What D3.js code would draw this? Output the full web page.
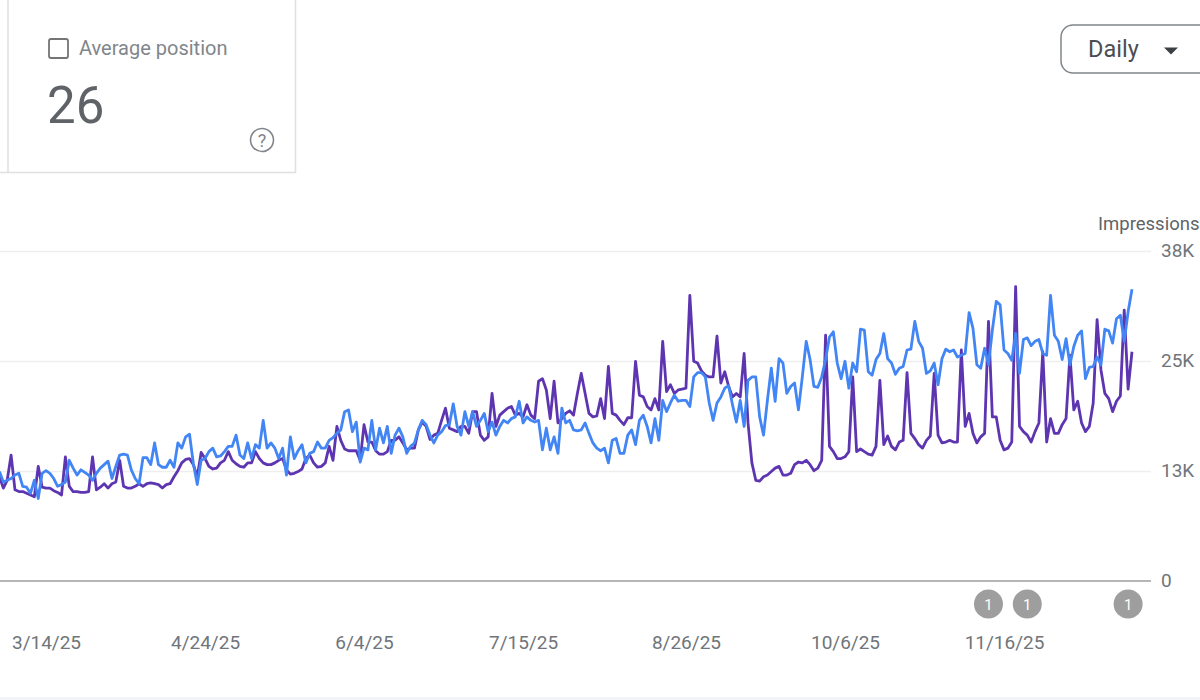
<!DOCTYPE html>
<meta charset='utf-8'>
<style>
  html, body { margin:0; padding:0; background:#fff; }
  svg { display:block; font-family:Roboto, sans-serif; }
  .grid line { stroke:#eeeeee; stroke-width:1.5px; }
  .grid path { display:none; }
  .line { fill:none; stroke-width:2.8px; stroke-linejoin:round; }
  .axisLabel text { fill:#70757a; font-size:19px; font-family:Roboto, sans-serif; }
  .axisLabel line, .axisLabel path { display:none; }
</style>
<body>
  <script src='https://d3js.org/d3.v7.min.js'></script>
  <script>
    // daily values in thousands, first day is startDate
    var startDate = '3/2/25';
    var impressions = [
      12.0,10.7,11.6,14.5,10.5,10.3,10.3,10.1,9.9,9.7,13.2,10.8,10.7,10.7,10.4,10.2,9.9,14.3,10.9,10.3,
      10.3,10.2,10.2,10.3,14.3,10.5,10.8,11.2,10.7,11.2,11.4,13.9,10.9,10.7,10.7,10.9,11.2,10.9,11.2,11.3,
      11.2,11.1,10.7,11.1,11.2,12.0,12.7,13.6,14.0,14.1,13.4,12.0,14.8,14.1,13.2,12.9,13.0,13.6,13.9,14.9,
      13.9,13.5,13.2,13.1,13.6,13.6,14.9,14.1,13.6,13.4,13.4,13.6,13.9,14.1,12.8,12.3,12.4,12.6,12.9,14.1,
      14.5,13.6,13.1,13.2,13.6,15.5,13.9,17.8,16.2,15.2,15.0,15.0,15.0,13.9,18.0,16.0,16.0,15.0,14.6,14.6,
      14.9,16.2,16.2,16.6,
      15.9,15.1,15.3,15.3,17.4,18.3,17.8,16.3,16.8,17.0,18.5,19.9,17.6,17.4,17.2,17.8,17.8,17.0,19.5,19.5,
      16.8,16.2,16.6,21.6,17.8,19.1,19.5,19.9,20.1,19.1,19.3,18.9,20.3,19.1,18.7,23.0,23.3,22.0,18.7,23.0,
      18.2,18.7,19.3,19.6,19.1,21.6,23.9,21.6,19.3,18.9,19.0,21.0,18.7,24.7,19.3,19.1,18.5,18.0,18.8,18.8,
      25.3,21.4,21.2,20.1,19.7,21.0,19.7,27.6,21.8,22.6,21.6,22.0,22.1,22.2,32.9,25.3,25.1,24.2,23.7,23.5,
      23.5,28.2,22.8,24.1,22.4,21.2,21.6,21.2,26.2,18.2,13.6,11.6,11.5,12.0,12.2,12.6,13.0,13.2,12.2,12.2,
      12.4,13.4,13.7,
      13.6,13.9,13.4,12.7,13.0,13.9,28.3,15.5,14.9,14.1,14.1,14.3,14.9,23.5,14.9,15.2,14.9,14.6,14.5,15.5,
      23.1,15.7,16.7,15.5,15.1,16.0,16.2,24.0,17.0,16.4,15.7,15.3,16.2,16.7,23.9,16.8,15.9,16.0,16.2,16.0,
      16.0,26.6,17.8,19.3,17.0,15.9,16.6,17.0,29.9,18.9,18.9,16.2,15.1,15.3,16.0,33.9,17.8,17.2,16.8,16.0,
      17.2,18.2,26.4,16.0,18.7,17.0,17.0,18.0,18.7,26.0,19.7,20.7,18.2,17.2,17.8,20.5,30.1,24.3,21.6,21.0,
      19.5,20.7,21.3,31.2,22.1,26.4
    ];
    var clicks = [
      12.6,11.4,11.6,11.8,12.2,12.4,10.9,10.8,10.1,11.6,9.5,12.4,12.7,12.4,11.8,10.9,11.1,11.4,13.9,13.0,
      12.2,12.8,12.5,12.2,11.6,12.4,13.0,13.4,13.8,11.8,13.2,14.5,14.6,14.5,12.8,11.8,11.2,14.2,14.2,13.4,
      15.9,13.4,13.1,13.1,13.9,13.1,15.9,15.3,16.6,16.9,13.5,11.1,13.9,14.1,14.9,15.3,14.3,14.4,14.9,15.5,
      15.5,16.8,14.5,14.1,15.9,14.1,15.7,15.3,18.5,15.3,15.9,15.3,14.1,15.3,12.2,16.6,14.1,15.0,15.7,13.6,
      14.7,14.9,16.0,15.3,15.3,16.2,16.5,17.0,17.4,19.5,19.7,17.2,18.3,13.7,15.3,15.1,18.5,15.1,17.6,15.9,
      17.8,14.7,16.8,17.6,
      16.6,14.7,15.5,15.9,17.4,18.5,18.0,16.8,15.9,16.8,17.2,17.9,18.0,20.4,17.8,16.8,19.5,17.8,19.5,17.8,
      18.5,19.3,17.2,18.3,16.8,17.8,18.5,18.2,18.7,18.9,20.7,18.2,18.9,18.5,18.3,18.5,15.1,17.6,15.1,16.6,
      14.7,19.9,18.2,18.5,17.4,17.3,17.4,18.2,17.0,15.9,15.3,15.0,15.3,13.6,16.2,16.4,14.7,14.7,16.8,17.4,
      15.7,18.5,19.1,17.8,15.9,18.7,16.2,20.8,19.5,20.5,21.4,20.7,20.8,20.8,20.1,23.5,24.0,24.0,23.5,20.5,
      18.5,20.5,21.2,22.2,22.5,20.3,18.3,20.8,17.8,23.1,23.5,23.5,18.9,16.8,20.8,24.5,20.7,25.6,25.1,21.6,
      22.4,22.8,19.7,
      23.5,27.6,25.5,22.4,22.3,23.5,25.5,28.1,28.7,25.1,23.3,25.3,22.2,25.1,24.1,29.0,28.9,24.1,23.7,25.5,
      26.2,28.5,25.6,25.1,23.8,24.5,24.7,26.6,26.7,29.9,27.6,26.8,23.9,24.2,25.1,22.6,25.6,26.7,26.4,26.6,
      25.8,26.0,26.2,30.9,29.1,24.9,24.5,26.8,24.9,28.9,32.2,31.8,26.6,26.2,25.4,28.5,23.9,27.8,28.0,27.1,
      27.6,27.8,26.2,26.0,32.9,28.3,27.6,25.5,27.9,24.9,27.0,28.3,28.8,23.3,24.6,24.7,25.8,24.9,29.0,28.8,
      27.4,30.2,30.6,27.6,31.0,33.6
    ];
    var dateTicks = ['3/14/25','4/24/25','6/4/25','7/15/25','8/26/25','10/6/25','11/16/25'];
    var valueTicks = [0,12.67,25.33,38];
    var valueTickLabels = ['0','13K','25K','38K'];
    var annotationDates = ['11/12/25','11/22/25','12/18/25'];
    var annotationCounts = ['1','1','1'];

    var width = 1200;
    var height = 700;
    var parseDate = d3.utcParse('%m/%d/%y');
    var formatDate = d3.utcFormat('%-m/%-d/%y');
    var first = parseDate(startDate);
    var dayOf = function(i) { return d3.utcDay.offset(first,i); };

    var svg = d3.select('body').append('svg')
      .attr('width',width)
      .attr('height',height);

    var x = d3.scaleUtc()
      .domain([parseDate('3/14/25'),parseDate('11/16/25')])
      .range([46,1004]);
    var y = d3.scaleLinear()
      .domain([0,38])
      .range([581,251]);

    // metric card, its top edge is cut off by the crop ---------------------
    svg.append('path')
      .attr('d','M8,0V172.5M0,172.5H295.5V0')
      .attr('fill','none')
      .attr('stroke','#e0e0e0')
      .attr('stroke-width',1.5);
    svg.append('rect')
      .attr('x',49).attr('y',39).attr('width',19).attr('height',19).attr('rx',2)
      .attr('fill','#fff').attr('stroke','#757575').attr('stroke-width',1.8);
    svg.append('text')
      .attr('x',79).attr('y',54.5)
      .attr('font-size',20).attr('fill','#80868b')
      .text('Average position');
    svg.append('text')
      .attr('x',47).attr('y',123)
      .attr('font-size',51).attr('fill','#5f6368')
      .text('26');
    svg.append('circle')
      .attr('cx',262).attr('cy',140).attr('r',11.5)
      .attr('fill','none').attr('stroke','#80868b').attr('stroke-width',1.6);
    svg.append('text')
      .attr('x',262).attr('y',146.5).attr('text-anchor','middle')
      .attr('font-size',18).attr('fill','#80868b')
      .text('?');

    // Daily dropdown -------------------------------------------------------
    svg.append('rect')
      .attr('x',1061).attr('y',25).attr('width',160).attr('height',48).attr('rx',12)
      .attr('fill','#fff').attr('stroke','#80868b').attr('stroke-width',1.5);
    svg.append('text')
      .attr('x',1088).attr('y',57)
      .attr('font-size',23.5).attr('fill','#4a4e52')
      .text('Daily');
    svg.append('path')
      .attr('d','M1164,47.5h14l-7,7z')
      .attr('fill','#3c4043');

    // axes -----------------------------------------------------------------
    svg.append('g')
      .attr('class','grid')
      .attr('transform','translate(1151,0)')
      .call(d3.axisLeft(y).tickValues(valueTicks.slice(1)).tickSize(1151).tickFormat(''));

    svg.append('line')
      .attr('x1',0).attr('x2',1151)
      .attr('y1',y(0)).attr('y2',y(0))
      .attr('stroke','#9e9e9e').attr('stroke-width',1.5);

    svg.append('g')
      .attr('class','axisLabel')
      .attr('transform','translate(1152,-1)')
      .call(d3.axisRight(y).tickValues(valueTicks).tickSize(0).tickPadding(9)
        .tickFormat(function(d,i) { return valueTickLabels[i]; }));

    svg.append('g')
      .attr('class','axisLabel')
      .attr('transform','translate(0,631)')
      .call(d3.axisBottom(x).tickValues(dateTicks.map(parseDate)).tickSize(0).tickPadding(4)
        .tickFormat(formatDate));

    svg.append('text')
      .attr('x',1098).attr('y',230)
      .attr('font-size',18.5).attr('fill','#5f6368')
      .text('Impressions');

    // lines ----------------------------------------------------------------
    var line = d3.line()
      .x(function(d,i) { return x(dayOf(i)); })
      .y(function(d) { return y(d); });

    svg.append('path')
      .datum(impressions)
      .attr('class','line')
      .attr('stroke','#5e35b1')
      .attr('d',line);

    svg.append('path')
      .datum(clicks)
      .attr('class','line')
      .attr('stroke','#4285f4')
      .attr('d',line);

    // annotation markers ---------------------------------------------------
    var marks = svg.selectAll('.mark')
      .data(annotationDates)
      .enter().append('g')
      .attr('class','mark')
      .attr('transform',function(d) { return 'translate(' + x(parseDate(d)) + ',604)'; });
    marks.append('circle')
      .attr('r',14.5)
      .attr('fill','#9e9e9e');
    marks.append('text')
      .attr('text-anchor','middle')
      .attr('y',5.5)
      .attr('font-size',15)
      .attr('fill','#fff')
      .text(function(d,i) { return annotationCounts[i]; });

    // page strip at the bottom
    svg.append('rect')
      .attr('x',0).attr('y',697).attr('width',width).attr('height',3)
      .attr('fill','#f1f5f9');
  </script>
</body>
